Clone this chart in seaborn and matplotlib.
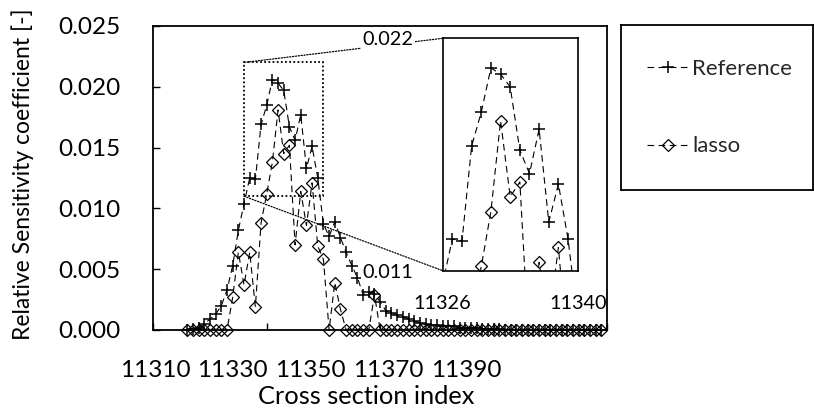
import numpy as np
import matplotlib
matplotlib.use("Agg")
import matplotlib.pyplot as plt
import seaborn as sns
from matplotlib.patches import Rectangle, ConnectionPatch

# ---- data -------------------------------------------------------------
section_index = np.arange(11316, 11390)

reference = [
    0.0000, 0.0001, 0.0002, 0.0005, 0.0009, 0.0013, 0.0020, 0.0033,
    0.0053, 0.0082, 0.0104, 0.0125, 0.0124, 0.0169, 0.0185, 0.0206,
    0.0203, 0.0197, 0.0167, 0.0156, 0.0177, 0.0133, 0.0151, 0.0125,
    0.0087, 0.0077, 0.0089, 0.0076, 0.0064, 0.0053, 0.0043, 0.0029,
    0.0031, 0.0030, 0.0023, 0.0016, 0.0014, 0.0012, 0.0011, 0.0009,
    0.0007, 0.0006, 0.0005, 0.0004, 0.0004, 0.0003, 0.0003, 0.0003,
    0.0002, 0.0002, 0.0002, 0.0002, 0.0001, 0.0001, 0.0001, 0.0001,
    0.0, 0.0, 0.0, 0.0, 0.0, 0.0, 0.0, 0.0, 0.0,
    0.0, 0.0, 0.0, 0.0, 0.0, 0.0, 0.0, 0.0, 0.0,
]

lasso = [
    0.0, 0.0, 0.0, 0.0, 0.0, 0.0, 0.0, 0.0,
    0.0027, 0.0064, 0.0037, 0.0064, 0.0019, 0.0088, 0.0112, 0.0138,
    0.0181, 0.0145, 0.0152, 0.0070, 0.0114, 0.0086, 0.0121, 0.0069,
    0.0058, 0.0, 0.0039, 0.0017, 0.0, 0.0, 0.0, 0.0, 0.0, 0.0029,
    0.0, 0.0, 0.0, 0.0, 0.0, 0.0, 0.0, 0.0, 0.0, 0.0,
    0.0, 0.0, 0.0, 0.0, 0.0, 0.0, 0.0, 0.0, 0.0, 0.0,
    0.0, 0.0, 0.0, 0.0, 0.0, 0.0, 0.0, 0.0, 0.0, 0.0,
    0.0, 0.0, 0.0, 0.0, 0.0, 0.0, 0.0, 0.0, 0.0, 0.0,
]

series_names = ["Reference", "lasso"]
x_tick_labels = ["11310", "11330", "11350", "11370", "11390"]
y_ticks = [0.000, 0.005, 0.010, 0.015, 0.020, 0.025]
zoom_x = [11326, 11340]
zoom_y = [0.011, 0.022]

# ---- style ------------------------------------------------------------
sns.set_theme(style="white")
plt.rcParams["font.family"] = ["Lato", "DejaVu Sans"]
plt.rcParams["axes.edgecolor"] = "black"

W, H = 814, 416
fig = plt.figure(figsize=(W / 100, H / 100), dpi=100)


def fig_rect(x0, y0, x1, y1):
    """Pixel box (top-left origin) -> figure fraction rect."""
    return [x0 / W, 1 - y1 / H, (x1 - x0) / W, (y1 - y0) / H]


dash = (0, (6, 4))
line_kw = dict(color="black", linewidth=0.8, linestyle=dash)
ref_kw = dict(marker="+", markersize=8.5, markeredgewidth=1.1,
              markeredgecolor="black")
las_kw = dict(marker="D", markersize=6.0, markeredgewidth=0.9,
              markerfacecolor="none", markeredgecolor="black")


def draw_series(axis, clip):
    sns.lineplot(x=section_index, y=reference, ax=axis, label=series_names[0],
                 clip_on=clip, **line_kw, **ref_kw)
    sns.lineplot(x=section_index, y=lasso, ax=axis, label=series_names[1],
                 clip_on=clip, **line_kw, **las_kw)
    if axis.get_legend() is not None:
        axis.get_legend().remove()


# ---- main axes --------------------------------------------------------
ax = fig.add_axes(fig_rect(153.3, 26, 607, 330))
draw_series(ax, clip=False)
ax.set_xlim(11310, 11390)
ax.set_ylim(0, 0.025)
ax.set_xticks([int(t) for t in x_tick_labels])
ax.set_xticklabels([])
ax.set_yticks(y_ticks)
ax.set_yticklabels([f"{v:.3f}" for v in y_ticks])
ax.tick_params(axis="both", direction="in", length=5, width=1.0,
               colors="black", bottom=True, left=True)
ax.tick_params(axis="y", labelsize=17.5, pad=23.5)
ax.set_xlabel("")
ax.set_ylabel("")
for s in ax.spines.values():
    s.set_linewidth(1.3)
    s.set_color("black")

# category labels along the bottom
axl = ax.twiny()
axl.set_xlim(11309.53, 11426.3)
axl.xaxis.set_ticks_position("bottom")
axl.set_xticks([int(t) for t in x_tick_labels])
axl.set_xticklabels(x_tick_labels)
axl.tick_params(axis="x", length=0, labelsize=17.5, pad=21.5, colors="black")
for s in axl.spines.values():
    s.set_visible(False)

# zoom window outline
ax.add_patch(Rectangle((zoom_x[0], zoom_y[0]), zoom_x[1] - zoom_x[0],
                       zoom_y[1] - zoom_y[0], fill=False, edgecolor="black",
                       linewidth=1.3, linestyle=(0, (1, 1.3)), zorder=1))

# ---- inset ------------------------------------------------------------
axins = fig.add_axes(fig_rect(442.7, 38.3, 577.7, 270.7))
draw_series(axins, clip=True)
axins.set_xlim(*zoom_x)
axins.set_ylim(*zoom_y)
axins.set_xticks(zoom_x)
axins.set_xticklabels([str(v) for v in zoom_x])
axins.set_yticks(zoom_y)
axins.set_yticklabels([f"{v:.3f}" for v in zoom_y])
axins.tick_params(axis="both", length=0, labelsize=14.3, colors="black")
axins.tick_params(axis="y", pad=21)
axins.tick_params(axis="x", pad=17.5)
axins.set_xlabel("")
axins.set_ylabel("")
for s in axins.spines.values():
    s.set_linewidth(1.2)
    s.set_color("black")
for lab in axins.get_yticklabels():
    lab.set_bbox(dict(facecolor="white", edgecolor="none", pad=1))

for yv in zoom_y:
    con = ConnectionPatch(xyA=(zoom_x[0], yv), coordsA=ax.transData,
                          xyB=(zoom_x[0], yv), coordsB=axins.transData,
                          color="black", linewidth=0.9,
                          linestyle=(0, (1, 1.3)))
    ax.add_artist(con)

# ---- legend box -------------------------------------------------------
lax = fig.add_axes(fig_rect(621, 25, 813, 190))
lax.set_xticks([])
lax.set_yticks([])
for s in lax.spines.values():
    s.set_linewidth(1.3)
    s.set_color("black")
handles = ax.get_lines()[:2]
lax.legend(handles, series_names, loc="center left",
           bbox_to_anchor=(0.134, 0.5), frameon=False, fontsize=16,
           handlelength=1.9, handletextpad=0.15, labelspacing=2.6,
           borderpad=0, borderaxespad=0, numpoints=1)

# ---- axis titles ------------------------------------------------------
fig.text(23 / W, 1 - 174 / H, "Relative Sensitivity coefficient [-]",
         rotation=90, ha="center", va="center", fontsize=16.5, color="black")
fig.text(366.5 / W, 1 - 397 / H, "Cross section index",
         ha="center", va="center", fontsize=18.3, color="black")

fig.savefig("out.png", dpi=100)
